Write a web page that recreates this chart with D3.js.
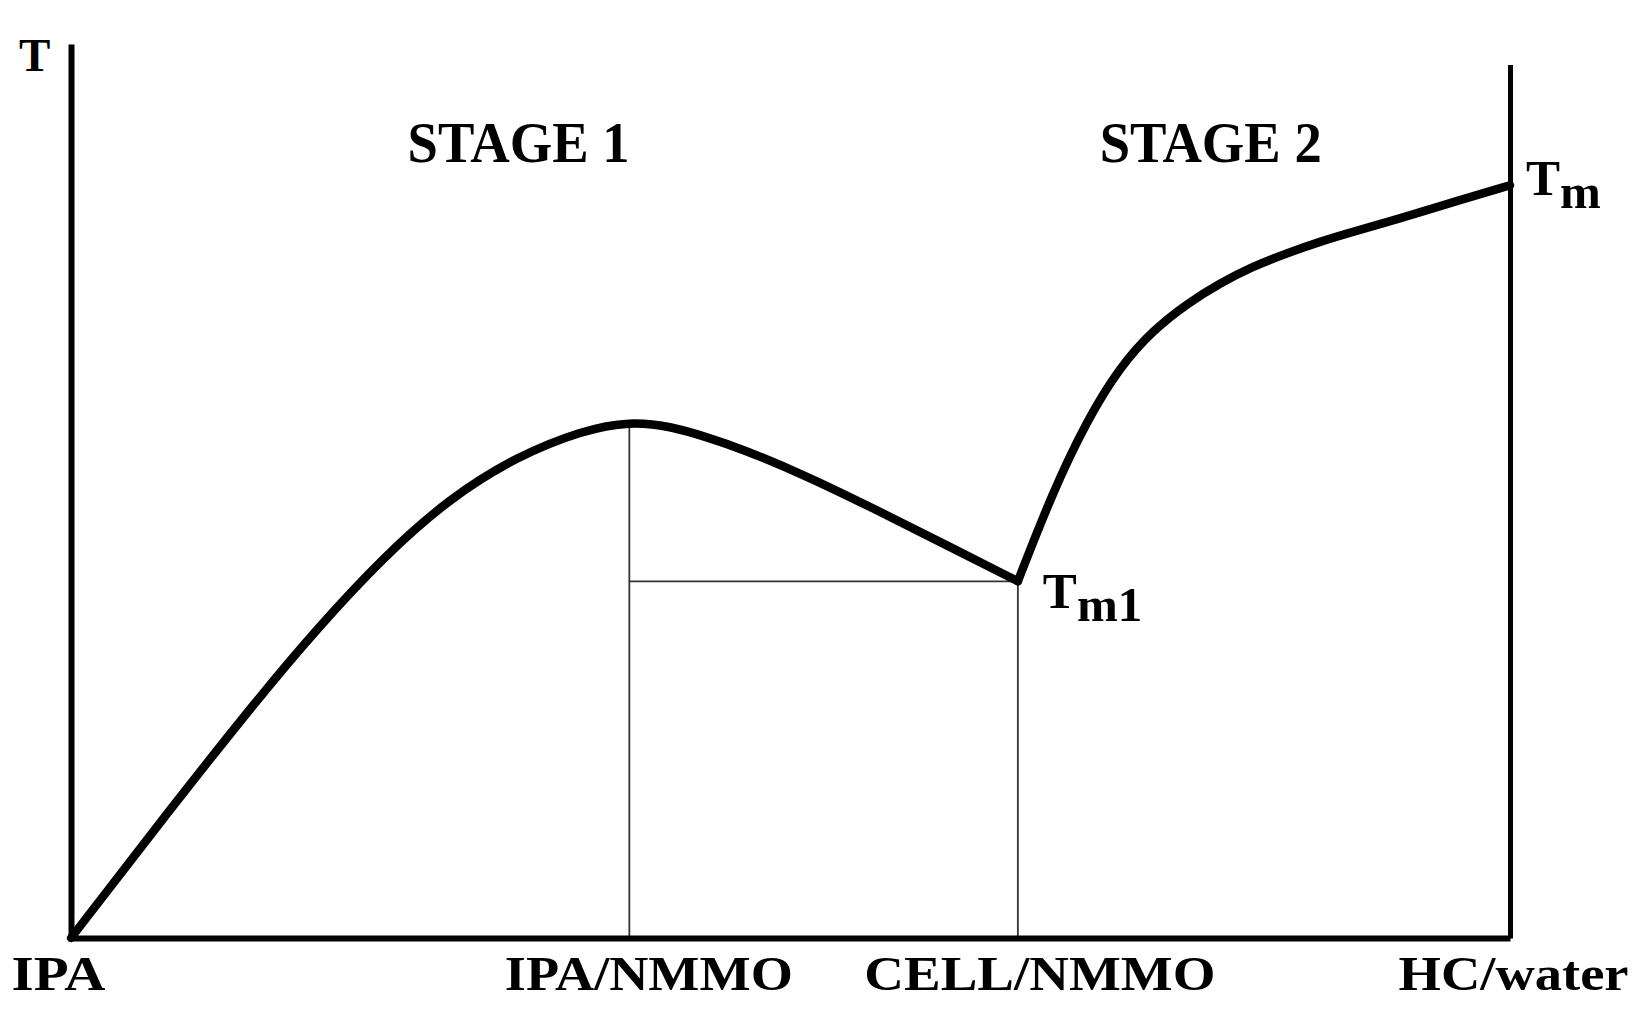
<!DOCTYPE html>
<html>
<head>
<meta charset="utf-8">
<script src="https://cdn.jsdelivr.net/npm/d3@7"></script>
<style>
  html, body { margin: 0; padding: 0; background: #fff; }
  svg { display: block; }
  text { font-family: "Liberation Serif", "Times New Roman", serif; font-weight: bold; fill: #000; }
</style>
</head>
<body>
<script>
// ---- data ----
const categories = ["IPA", "IPA/NMMO", "CELL/NMMO", "HC/water"];
const categoryPositions = [0, 0.388, 0.658, 1.0];
const stageLabels = ["STAGE 1", "STAGE 2"];
const stageLabelPositions = [0.311, 0.792];
const stage1X = [0, 0.065, 0.131, 0.171, 0.217, 0.263, 0.310, 0.356, 0.388, 0.418, 0.442, 0.465, 0.511, 0.557, 0.604, 0.658];
const stage1T = [0, 13.6, 27.0, 34.6, 42.6, 49.2, 53.9, 56.8, 57.8, 57.2, 56.0, 54.8, 51.7, 48.1, 44.3, 39.9];
const stage2X = [0.658, 0.682, 0.706, 0.729, 0.752, 0.776, 0.798, 0.821, 0.845, 0.868, 0.891, 0.924, 0.96, 1.0];
const stage2T = [39.9, 49.8, 57.9, 63.9, 68.0, 71.0, 73.2, 75.1, 76.6, 77.9, 79.0, 80.5, 82.3, 84.2];
const peakT = 57.6;
const tm1T = 39.9;
const tmT = 84.2;
const rightAxisTop = 97.7;

// ---- layout ----
const W = 1642, H = 1020;
const margin = { left: 71, right: 132, top: 44, bottom: 82 };
const svg = d3.select("body").append("svg").attr("width", W).attr("height", H);

const x = d3.scaleLinear().domain([0, 1]).range([margin.left, W - margin.right]);
const y = d3.scaleLinear().domain([0, 100]).range([H - margin.bottom, margin.top]);

// guide lines (thin)
const guide = svg.append("g").attr("stroke", "#333").attr("stroke-width", 1.8).attr("fill", "none");
guide.append("line")
  .attr("x1", x(categoryPositions[1])).attr("x2", x(categoryPositions[1]))
  .attr("y1", y(peakT)).attr("y2", y(0));
guide.append("line")
  .attr("x1", x(categoryPositions[2])).attr("x2", x(categoryPositions[2]))
  .attr("y1", y(tm1T)).attr("y2", y(0));
guide.append("line")
  .attr("x1", x(categoryPositions[1])).attr("x2", x(categoryPositions[2]))
  .attr("y1", y(tm1T)).attr("y2", y(tm1T));

// axes
const labelOffsets = [-60, -125, -154, -112];
const labelWidths = [94, 288, 351, 230];
const xAxis = d3.axisBottom(x)
  .tickValues(categoryPositions)
  .tickFormat((d, i) => categories[i])
  .tickSize(0).tickSizeOuter(0);
const gx = svg.append("g").attr("transform", `translate(0,${y(0)})`).call(xAxis);
gx.select(".domain").attr("stroke", "#000").attr("stroke-width", 6);
gx.selectAll(".tick text")
  .style("font-family", "'Liberation Serif', serif")
  .style("font-weight", "bold")
  .attr("font-size", 48)
  .attr("y", 52).attr("dy", 0)
  .attr("text-anchor", "start")
  .attr("x", (d, i) => labelOffsets[i])
  .attr("textLength", (d, i) => labelWidths[i])
  .attr("lengthAdjust", "spacingAndGlyphs");

const yAxisL = d3.axisLeft(y).tickValues([]).tickSizeOuter(0);
const gl = svg.append("g").attr("transform", `translate(${x(0)},0)`).call(yAxisL);
gl.select(".domain").attr("stroke", "#000").attr("stroke-width", 6);

const yR = d3.scaleLinear().domain([0, rightAxisTop]).range([y(0), y(rightAxisTop)]);
const yAxisR = d3.axisRight(yR).tickValues([]).tickSizeOuter(0);
const gr = svg.append("g").attr("transform", `translate(${x(1)},0)`).call(yAxisR);
gr.select(".domain").attr("stroke", "#000").attr("stroke-width", 5);

// curve
const line = d3.line().x(d => x(d[0])).y(d => y(d[1])).curve(d3.curveBasis);
const s1 = stage1X.map((v, i) => [v, stage1T[i]]);
const s2 = stage2X.map((v, i) => [v, stage2T[i]]);
[s1, s2].forEach(s => {
  svg.append("path").datum(s).attr("d", line)
    .attr("fill", "none").attr("stroke", "#000").attr("stroke-width", 8.5)
    .attr("stroke-linejoin", "round").attr("stroke-linecap", "round");
});

// stage labels
svg.selectAll(".stage").data(stageLabels).join("text")
  .attr("class", "stage")
  .attr("x", (d, i) => x(stageLabelPositions[i]))
  .attr("y", 162)
  .attr("text-anchor", "middle")
  .attr("font-size", 57)
  .attr("textLength", 222)
  .attr("lengthAdjust", "spacingAndGlyphs")
  .text(d => d);

// T label
svg.append("text").attr("x", 19).attr("y", 71).attr("font-size", 47).text("T");

// Tm
const tm = svg.append("text").attr("x", x(1) + 16).attr("y", y(tmT) + 10).attr("font-size", 51);
tm.append("tspan").text("T");
tm.append("tspan").attr("dy", 13).attr("font-size", 49).text("m");

// Tm1
const tm1 = svg.append("text").attr("x", x(categoryPositions[2]) + 25).attr("y", y(tm1T) + 27).attr("font-size", 51);
tm1.append("tspan").text("T");
tm1.append("tspan").attr("dy", 13).attr("font-size", 49).text("m1");
</script>
</body>
</html>
